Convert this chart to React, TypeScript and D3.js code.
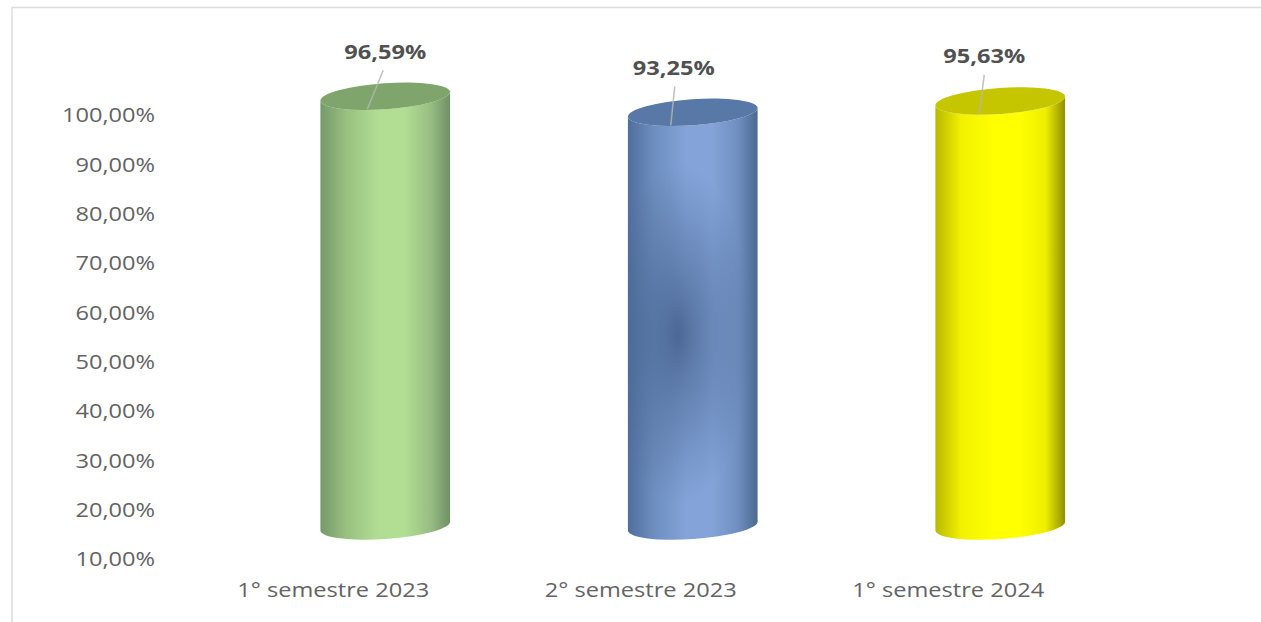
import React from "react";
import * as d3 from "d3";

const categories = ["1° semestre 2023", "2° semestre 2023", "1° semestre 2024"];
const values = [96.59, 93.25, 95.63];
const axisTicks = [10, 20, 30, 40, 50, 60, 70, 80, 90, 100];
const bodyEdgeLeft = ["#76996b", "#4f6e9c", "#b8b800"];
const bodyShoulderLeft = ["#98c080", "#6d8ebf", "#f2f200"];
const bodyMid = ["#b1de93", "#84a4d9", "#ffff00"];
const bodyShoulderRight = ["#98bd82", "#6f8fc0", "#eeee00"];
const bodyEdgeRight = ["#6f9065", "#4c6890", "#8f8f00"];
const capColors = ["#7fa56d", "#5878a8", "#c6c600"];
const labelShiftX = [0, -19, -16];
const leaderTopX = [-2, -18, -16];
const leaderFootX = [-18, -22, -21];

const W = 1261;
const H = 622;
const RX = 65;
const RY = 13;
const TILT = -4;
const STRETCH = 1.18;
const FONT = "'Open Sans', sans-serif";

const fmt = (v: number) => `${v.toFixed(2).replace(".", ",")}%`;

export default function App() {
  const axisY = d3.scaleLinear().domain([10, 100]).range([559, 115]);
  const depthY = d3.scaleLinear().domain([10, 100]).range([511, 80]);
  const x = d3.scaleBand<string>().domain(categories).range([231.5, 1154]);
  const floorY = depthY(10) + 15;
  const rad = (TILT * Math.PI) / 180;
  const dx = RX * Math.cos(rad);
  const dy = RX * Math.sin(rad);

  const bodyPath = (cx: number, top: number) =>
    `M${cx - dx},${top - dy}L${cx - dx},${floorY - dy}` +
    `A${RX},${RY} ${TILT} 0 0 ${cx + dx},${floorY + dy}` +
    `L${cx + dx},${top + dy}` +
    `A${RX},${RY} ${TILT} 0 1 ${cx - dx},${top - dy}Z`;

  return (
    <svg
      width={W}
      height={H}
      style={{ position: "absolute", left: 0, top: 0, background: "#fff" }}
    >
      <defs>
        {categories.map((c, i) => (
          <linearGradient key={c} id={`body-${i}`} x1="0" x2="1" y1="0" y2="0">
            <stop offset="0" stopColor={bodyEdgeLeft[i]} />
            <stop offset="0.2" stopColor={bodyShoulderLeft[i]} />
            <stop offset="0.45" stopColor={bodyMid[i]} />
            <stop offset="0.65" stopColor={bodyMid[i]} />
            <stop offset="0.85" stopColor={bodyShoulderRight[i]} />
            <stop offset="1" stopColor={bodyEdgeRight[i]} />
          </linearGradient>
        ))}
        <radialGradient id="shade" cx="0.5" cy="0.5" r="0.5">
          <stop offset="0" stopColor="#3f5a85" stopOpacity="0.8" />
          <stop offset="0.25" stopColor="#3f5a85" stopOpacity="0.55" />
          <stop offset="0.6" stopColor="#3f5a85" stopOpacity="0.28" />
          <stop offset="1" stopColor="#3f5a85" stopOpacity="0" />
        </radialGradient>
      </defs>

      {/* chart frame */}
      <line x1={12} x2={W} y1={7.5} y2={7.5} stroke="#dcdcdc" strokeWidth={1.5} />
      <line x1={12} x2={12} y1={7} y2={H} stroke="#dcdcdc" strokeWidth={1.5} />

      {/* value axis */}
      {axisTicks.map((t) => (
        <text
          key={t}
          transform={`translate(155,${axisY(t)}) scale(${STRETCH},1)`}
          dy="0.36em"
          textAnchor="end"
          fontFamily={FONT}
          fontSize={20}
          fill="#636363"
        >
          {fmt(t)}
        </text>
      ))}

      {/* category axis */}
      {categories.map((c) => (
        <text
          key={c}
          transform={`translate(${x(c)! + x.bandwidth() / 2 - 52},590) scale(${STRETCH},1)`}
          dy="0.36em"
          textAnchor="middle"
          fontFamily={FONT}
          fontSize={20}
          fill="#636363"
        >
          {c}
        </text>
      ))}

      {/* cylinders */}
      {categories.map((c, i) => {
        const cx = x(c)! + x.bandwidth() / 2;
        const top = depthY(values[i]);
        return (
          <g key={c}>
            <clipPath id={`clip-${i}`}>
              <path d={bodyPath(cx, top)} />
            </clipPath>
            <path d={bodyPath(cx, top)} fill={`url(#body-${i})`} />
            {i === 1 && (
              <ellipse
                cx={cx - 14}
                cy={(top + floorY) / 2 + 15}
                rx={72}
                ry={170}
                fill="url(#shade)"
                clipPath={`url(#clip-${i})`}
              />
            )}
            <ellipse
              cx={cx}
              cy={top}
              rx={RX}
              ry={RY}
              transform={`rotate(${TILT} ${cx} ${top})`}
              fill={capColors[i]}
            />
            <line
              x1={cx + leaderTopX[i]}
              y1={top - 26}
              x2={cx + leaderFootX[i]}
              y2={top + 13}
              stroke="#b5b5b5"
              strokeOpacity={0.85}
              strokeWidth={1.5}
            />
            <text
              transform={`translate(${cx + labelShiftX[i]},${top - 45}) scale(${STRETCH},1)`}
              dy="0.36em"
              textAnchor="middle"
              fontFamily={FONT}
              fontSize={20}
              fontWeight={700}
              fill="#505050"
            >
              {fmt(values[i])}
            </text>
          </g>
        );
      })}
    </svg>
  );
}
